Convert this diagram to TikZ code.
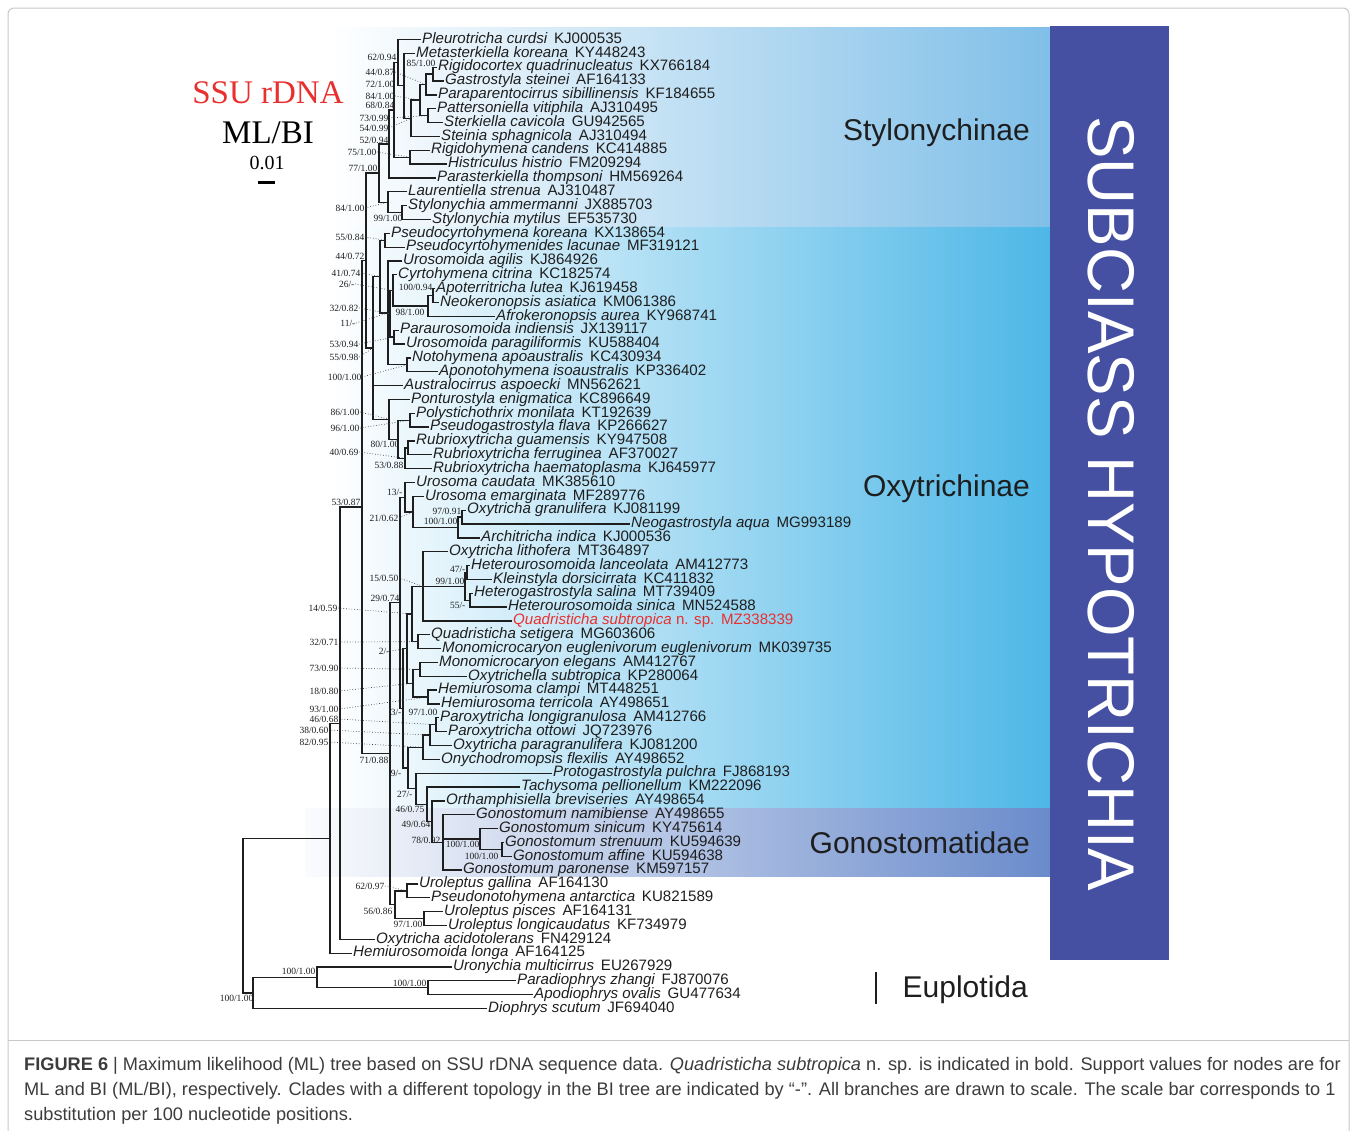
\documentclass[tikz,border=0pt]{standalone}
\usepackage{fontspec}
\setmainfont{Liberation Sans}
\newfontfamily\serifb{Liberation Serif}

\definecolor{encre}{HTML}{1E1E1E}
\definecolor{styc}{HTML}{80BFE8}
\definecolor{oxym}{HTML}{92D2F0}
\definecolor{oxyc}{HTML}{4DB7E7}
\definecolor{gonc}{HTML}{6A8BCB}
\definecolor{hypoc}{HTML}{4650A2}
\definecolor{qred}{HTML}{E8302F}
\definecolor{cadrec}{HTML}{C8C8C8}
\definecolor{legc}{HTML}{3C3C3C}

% un clade : nom, x, premier enfant, dernier enfant
\newcommand\clade[4]{%
  \path (#3) -- coordinate[pos=.5] (m#1) (#4);
  \coordinate (#1) at (#2,0 |- m#1);
  \draw[branche] (#3) -| (#1) |- (#4);
}
% un enfant de plus (polytomie)
\newcommand\branchplus[2]{\draw[branche] (#2) -| (#1);}

\begin{document}
\begin{tikzpicture}[x=1pt,y=-1pt]
% définition des styles
\tikzstyle{feuille}=[anchor=west, inner xsep=1pt, inner ysep=0pt, text height=10.5pt, text depth=3pt, text=encre, font=\fontsize{15.1}{15.1}\selectfont]
\tikzstyle{branche}=[draw=encre, line width=1.3pt]
\tikzstyle{support}=[anchor=east, inner sep=0.5pt, text=encre, font=\serifb\fontsize{9.5}{9.5}\selectfont]
\tikzstyle{pointille}=[draw=black!75, line width=0.7pt, dotted]
\tikzstyle{sousfamille}=[anchor=east, inner sep=0pt, text=encre, font=\fontsize{30}{30}\selectfont]
\tikzstyle{legende}=[anchor=west, inner sep=0pt, text=legc, font=\fontsize{18.2}{18.2}\selectfont]

\useasboundingbox (0,0) rectangle (1356,1130);

% le cadre et les fonds
\draw[cadrec, line width=1pt, rounded corners=6pt] (8,8) rectangle (1349,1150);
\draw[cadrec, line width=1pt] (8,1040) -- (1349,1040);
\shade[left color=white, right color=styc] (330,27) rectangle (1050,227);
\shade[left color=white, middle color=oxym, right color=oxyc] (330,227) rectangle (1050,808);
\shade[left color=white!97!gonc, right color=gonc] (305,808) rectangle (1050,876);
\fill[hypoc] (1050,26) rectangle (1169,960);

% les feuilles
\foreach \n/\x/\sp/\acc [count=\i] in {
pleu/421/Pleurotricha curdsi/KJ000535,
meta/415/Metasterkiella koreana/KY448243,
rigc/437/Rigidocortex quadrinucleatus/KX766184,
gast/444/Gastrostyla steinei/AF164133,
papa/437/Paraparentocirrus sibillinensis/KF184655,
patt/436/Pattersoniella vitiphila/AJ310495,
ster/443/Sterkiella cavicola/GU942565,
stei/440/Steinia sphagnicola/AJ310494,
righ/430/Rigidohymena candens/KC414885,
hist/447/Histriculus histrio/FM209294,
pars/436/Parasterkiella thompsoni/HM569264,
laur/407/Laurentiella strenua/AJ310487,
stam/407/Stylonychia ammermanni/JX885703,
stmy/431/Stylonychia mytilus/EF535730,
pcko/390/Pseudocyrtohymena koreana/KX138654,
pcla/405/Pseudocyrtohymenides lacunae/MF319121,
urag/402/Urosomoida agilis/KJ864926,
cyrt/397/Cyrtohymena citrina/KC182574,
apot/435/Apoterritricha lutea/KJ619458,
neok/439/Neokeronopsis asiatica/KM061386,
afro/495/Afrokeronopsis aurea/KY968741,
paru/399/Paraurosomoida indiensis/JX139117,
urpa/405/Urosomoida paragiliformis/KU588404,
noto/411/Notohymena apoaustralis/KC430934,
apon/438/Aponotohymena isoaustralis/KP336402,
aust/403/Australocirrus aspoecki/MN562621,
pont/410/Ponturostyla enigmatica/KC896649,
poly/415/Polystichothrix monilata/KT192639,
psga/429/Pseudogastrostyla flava/KP266627,
rugu/415/Rubrioxytricha guamensis/KY947508,
rufe/432/Rubrioxytricha ferruginea/AF370027,
ruha/432/Rubrioxytricha haematoplasma/KJ645977,
urca/415/Urosoma caudata/MK385610,
urem/424/Urosoma emarginata/MF289776,
oxgr/466/Oxytricha granulifera/KJ081199,
neog/630/Neogastrostyla aqua/MG993189,
arch/480/Architricha indica/KJ000536,
oxli/448/Oxytricha lithofera/MT364897,
hela/470/Heterourosomoida lanceolata/AM412773,
klei/492/Kleinstyla dorsicirrata/KC411832,
hesa/473/Heterogastrostyla salina/MT739409,
hesi/507/Heterourosomoida sinica/MN524588,
qsub/512/{\textcolor{qred}{Quadristicha subtropica\upshape{} n. sp.}}/{\textcolor{qred}{MZ338339}},
qset/430/Quadristicha setigera/MG603606,
moeu/441/Monomicrocaryon euglenivorum euglenivorum/MK039735,
moel/438/Monomicrocaryon elegans/AM412767,
oxsu/467/Oxytrichella subtropica/KP280064,
hecl/437/Hemiurosoma clampi/MT448251,
hete/440/Hemiurosoma terricola/AY498651,
palo/439/Paroxytricha longigranulosa/AM412766,
paot/447/Paroxytricha ottowi/JQ723976,
oxpa/452/Oxytricha paragranulifera/KJ081200,
onyc/440/Onychodromopsis flexilis/AY498652,
prot/552/Protogastrostyla pulchra/FJ868193,
tach/520/Tachysoma pellionellum/KM222096,
orth/445/Orthamphisiella breviseries/AY498654,
gona/475/Gonostomum namibiense/AY498655,
gosi/498/Gonostomum sinicum/KY475614,
gost/504/Gonostomum strenuum/KU594639,
goaf/512/Gonostomum affine/KU594638,
gopa/462/Gonostomum paronense/KM597157,
urga/418/Uroleptus gallina/AF164130,
psan/430/Pseudonotohymena antarctica/KU821589,
urpi/443/Uroleptus pisces/AF164131,
urlo/447/Uroleptus longicaudatus/KF734979,
oxac/375/Oxytricha acidotolerans/FN429124,
helo/352/Hemiurosomoida longa/AF164125,
uron/452/Uronychia multicirrus/EU267929,
padi/516/Paradiophrys zhangi/FJ870076,
apod/533/Apodiophrys ovalis/GU477634,
diop/487/Diophrys scutum/JF694040}{
  \node[feuille] (t\n) at (\x,{39.5+(\i-1)*13.843}) {{\itshape\sp}\hspace{.45em}\acc};
  \coordinate (\n) at (t\n.west);
}

% Stylonychinae
\clade{RG}{433}{rigc}{gast}
\clade{RGP}{426}{RG}{papa}
\clade{PS}{428}{patt}{ster}
\clade{Q}{420}{RGP}{PS}
\clade{QS}{411}{Q}{stei}
\clade{M}{404}{meta}{QS}
\clade{P}{398}{pleu}{M}
\clade{RH}{410}{righ}{hist}
\clade{PR}{394}{P}{RH}
\clade{PP}{389}{PR}{pars}
\clade{SS}{402}{stam}{stmy}
\clade{L}{388}{laur}{SS}
\clade{S}{379}{PP}{L}

% Oxytrichinae (haut)
\clade{PC}{385}{pcko}{pcla}
\clade{AN}{433}{apot}{neok}
\clade{ANA}{428}{AN}{afro}
\clade{CG}{393}{cyrt}{ANA}
\clade{PU}{394}{paru}{urpa}
\clade{X2}{390}{CG}{PU}
\clade{NA}{407}{noto}{apon}
\clade{X}{388}{urag}{NA}
\branchplus{X}{X2}
\clade{PX}{380}{PC}{X}
\clade{PP2}{410}{poly}{psga}
\clade{Rg}{408}{rugu}{rufe}
\clade{Rub}{405}{Rg}{ruha}
\clade{PR2}{398}{PP2}{Rub}
\clade{PG}{389}{pont}{PR2}
\clade{P1}{373}{PX}{PG}
\branchplus{P1}{aust}
\clade{N367}{366}{S}{P1}

% Oxytrichinae (bas) et Gonostomatidae
\clade{ON}{462}{oxgr}{neog}
\clade{ONA}{458}{ON}{arch}
\clade{N413}{413}{urem}{ONA}
\clade{Ur}{405}{urca}{N413}
\clade{LK}{467}{hela}{klei}
\clade{HS}{470}{hesa}{hesi}
\clade{Het}{465}{LK}{HS}
\clade{N423}{423}{oxli}{qsub}
\branchplus{N423}{Het}
\clade{QM}{418}{qset}{moeu}
\clade{N417}{412}{N423}{QM}
\clade{MO}{420}{moel}{oxsu}
\clade{HH}{428}{hecl}{hete}
\clade{MH}{413}{MO}{HH}
\clade{N408}{407}{N417}{MH}
\clade{Plo}{436}{palo}{paot}
\clade{Plop}{430}{Plo}{oxpa}
\clade{Pall}{423}{Plop}{onyc}
\clade{GSA}{502}{gost}{goaf}
\clade{Gssa}{480}{gosi}{GSA}
\clade{Gono}{443}{gona}{gopa}
\branchplus{Gono}{Gssa}
\clade{N432}{432}{orth}{Gono}
\clade{N427}{427}{tach}{N432}
\clade{N27}{416}{prot}{N427}
\clade{N9}{408}{Pall}{N27}
\clade{N3}{403}{N408}{N9}
\clade{Big}{400}{Ur}{N3}
\clade{UP}{407}{urga}{psan}
\clade{UL}{424}{urpi}{urlo}
\clade{Urol}{395}{UP}{UL}
\clade{L71}{390}{Big}{Urol}
\clade{N362}{362}{N367}{L71}
\clade{N340}{340}{N362}{oxac}
\clade{N330}{330}{N340}{helo}

% Euplotida et racine
\clade{PA}{428}{padi}{apod}
\clade{N317}{317}{uron}{PA}
\clade{N253}{253}{N317}{diop}
\clade{R}{243}{N330}{N253}

% les valeurs de support
\node[support] (sP) at (397,57) {62/0.94};
\node[support] (sRGP) at (395,72) {44/0.87};
\node[support] (sRG) at (436,63) {85/1.00};
\node[support] (sM) at (395,84) {72/1.00};
\node[support] (sQ) at (395,96) {84/1.00};
\node[support] (sPR) at (395,105) {68/0.84};
\node[support] (sPS) at (389,118) {73/0.99};
\node[support] (sQS) at (389,128) {54/0.99};
\node[support] (sPP) at (389,140) {52/0.94};
\node[support] (sRH) at (377,152) {75/1.00};
\node[support] (sS) at (378,168) {77/1.00};
\node[support] (sL) at (365,208) {84/1.00};
\node[support] (sSS) at (403,218) {99/1.00};
\node[support] (sPC) at (365,237) {55/0.84};
\node[support] (sN367) at (365,256) {44/0.72};
\node[support] (sPX) at (361,273) {41/0.74};
\node[support] (sCG) at (355,284) {26/-};
\node[support] (sAN) at (433,287) {100/0.94};
\node[support] (sX2) at (359,308) {32/0.82};
\node[support] (sANA) at (425,312) {98/1.00};
\node[support] (sX) at (356,323) {11/-};
\node[support] (sPU) at (359,344) {53/0.94};
\node[support] (sP1) at (359,357) {55/0.98};
\node[support] (sNA) at (362,377) {100/1.00};
\node[support] (sPG) at (360,412) {86/1.00};
\node[support] (sPP2) at (360,428) {96/1.00};
\node[support] (sRg) at (400,444) {80/1.00};
\node[support] (sRub) at (359,452) {40/0.69};
\node[support] (sRubB) at (404,465) {53/0.88};
\node[support] (sN362) at (361,502) {53/0.87};
\node[support] (sUr) at (403,492) {13/-};
\node[support] (sN413) at (399,518) {21/0.62};
\node[support] (sON) at (462,511) {97/0.91};
\node[support] (sONA) at (458,521) {100/1.00};
\node[support] (sN423) at (399,578) {15/0.50};
\node[support] (sLK) at (466,569) {47/-};
\node[support] (sHet) at (465,581) {99/1.00};
\node[support] (sHS) at (466,605) {55/-};
\node[support] (sBig) at (400,598) {29/0.74};
\node[support] (sN417) at (338,608) {14/0.59};
\node[support] (sQM) at (339,642) {32/0.71};
\node[support] (sN408) at (390,651) {2/-};
\node[support] (sMO) at (339,668) {73/0.90};
\node[support] (sMH) at (339,691) {18/0.80};
\node[support] (sHH) at (339,709) {93/1.00};
\node[support] (sN3) at (402,712) {3/-};
\node[support] (sPlo) at (438,712) {97/1.00};
\node[support] (sPloB) at (339,719) {46/0.68};
\node[support] (sPlop) at (329,730) {38/0.60};
\node[support] (sPall) at (329,742) {82/0.95};
\node[support] (sL71) at (389,760) {71/0.88};
\node[support] (sN9) at (402,773) {9/-};
\node[support] (sN27) at (413,794) {27/-};
\node[support] (sN427) at (425,809) {46/0.75};
\node[support] (sN432) at (431,824) {49/0.64};
\node[support] (sGono) at (441,840) {78/0.92};
\node[support] (sGssa) at (480,844) {100/1.00};
\node[support] (sGSA) at (499,856) {100/1.00};
\node[support] (sUP) at (385,886) {62/0.97};
\node[support] (sUrol) at (393,911) {56/0.86};
\node[support] (sUL) at (423,924) {97/1.00};
\node[support] (sN317) at (316,971) {100/1.00};
\node[support] (sPA) at (427,983) {100/1.00};
\node[support] (sN253) at (254,998) {100/1.00};

% les pointillés
\foreach \s/\c in {sRGP/RGP, sQ/Q, sPS/PS, sQS/QS, sRH/RH, sL/L, sPC/PC, sPX/PX, sCG/CG, sX2/X2, sX/X, sPU/PU, sP1/P1, sNA/NA, sPG/PG, sPP2/PP2, sRub/Rub, sN413/N413, sN423/N423, sN417/N417, sQM/QM, sN408/N408, sMO/MO, sMH/MH, sHH/HH, sPloB/Plo, sPlop/Plop, sPall/Pall, sUP/UP}
  \draw[pointille] (\s.east) -- (\c);

% les étiquettes
\node[sousfamille] (styl) at (1030,133) {Stylonychinae};
\node[sousfamille] (oxyt) at (1030,489) {Oxytrichinae};
\node[sousfamille] (gono) at (1030,843) {Gonostomatidae};
\node[sousfamille] (eupl) at (1028,990) {Euplotida};
\draw[encre, line width=2.6pt] (876,972) -- (876,1004);
\node[text=white, rotate=-90, inner sep=0pt, font=\fontsize{66}{66}\selectfont] (hypo) at (1111,504) {\scalebox{0.965}[1]{SUBCIASS HYPOTRICHIA}};

\node[text=qred, font=\serifb\fontsize{33}{33}\selectfont] (ssu) at (268,93) {SSU rDNA};
\node[text=black, font=\serifb\fontsize{33}{33}\selectfont] (mlbi) at (268,133) {ML/BI};
\node[text=black, font=\serifb\fontsize{20}{20}\selectfont] (echelle) at (267,163) {0.01};
\draw[black, line width=3pt] (258,182) -- (275,182);

% la légende
\node[legende] (leg1) at (24,1066) {\textbf{FIGURE 6} | Maximum likelihood (ML) tree based on SSU rDNA sequence data. \textit{Quadristicha subtropica} n. sp. is indicated in bold. Support values for nodes are for};
\node[legende] (leg2) at (24,1091) {ML and BI (ML/BI), respectively. Clades with a different topology in the BI tree are indicated by “-”. All branches are drawn to scale. The scale bar corresponds to 1};
\node[legende] (leg3) at (24,1116) {substitution per 100 nucleotide positions.};
\end{tikzpicture}
\end{document}
